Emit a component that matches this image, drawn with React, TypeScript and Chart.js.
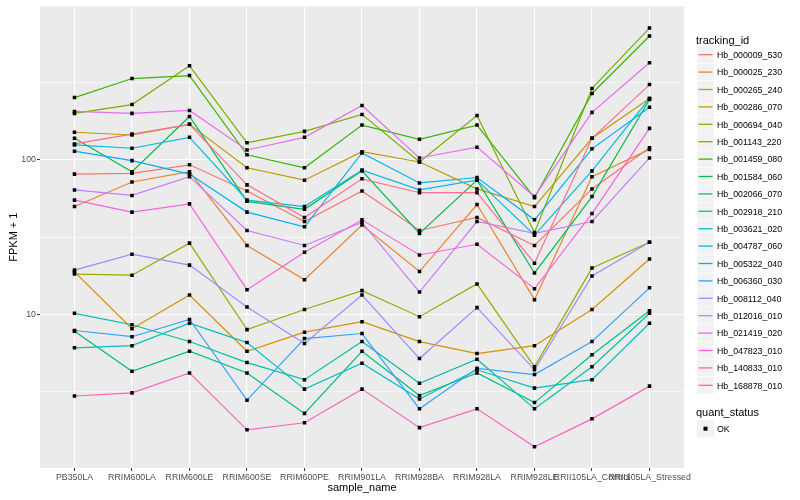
import React, { useEffect, useRef } from "react";
import { Chart, registerables } from "chart.js";

Chart.register(...registerables);

const FONT = "'Liberation Sans', Arial, Helvetica, sans-serif";

const categories = [
  "PB350LA",
  "RRIM600LA",
  "RRIM600LE",
  "RRIM600SE",
  "RRIM600PE",
  "RRIM901LA",
  "RRIM928BA",
  "RRIM928LA",
  "RRIM928LE",
  "RRII105LA_Control",
  "RRII105LA_Stressed",
];

const trackingIds = [
  "Hb_000009_530",
  "Hb_000025_230",
  "Hb_000265_240",
  "Hb_000286_070",
  "Hb_000694_040",
  "Hb_001143_220",
  "Hb_001459_080",
  "Hb_001584_060",
  "Hb_002066_070",
  "Hb_002918_210",
  "Hb_003621_020",
  "Hb_004787_060",
  "Hb_005322_040",
  "Hb_006360_030",
  "Hb_008112_040",
  "Hb_012016_010",
  "Hb_021419_020",
  "Hb_047823_010",
  "Hb_140833_010",
  "Hb_168878_010",
];

const seriesColors = [
  "#F8766D", "#EA8331", "#D89000", "#C09B00", "#A3A500",
  "#7CAE00", "#39B600", "#00BB4E", "#00BF7D", "#00C1A3",
  "#00BFC4", "#00BAE0", "#00B0F6", "#35A2FF", "#9590FF",
  "#C77CFF", "#E76BF3", "#FA62DB", "#FF62BC", "#FF6C91",
];

// FPKM + 1 per sample, in category order
const s000009_530 = [81, 82, 93, 63, 40, 63, 35, 42.5, 28, 65, 120];
const s000025_230 = [50, 72, 84, 28, 16.8, 38, 19, 51.5, 12.5, 78, 117];
const s000265_240 = [18.9, 8.1, 13.4, 5.8, 7.7, 9.0, 6.7, 5.6, 6.3, 10.8, 22.9];
const s000286_070 = [151, 145, 170, 89, 74, 113, 97, 65, 50, 138, 250];
const s000694_040 = [18.3, 18.0, 29.0, 8.0, 10.8, 14.3, 9.7, 15.8, 4.6, 20.0, 29.4];
const s001143_220 = [200, 228, 406, 129, 153, 197, 97, 194, 34, 290, 712];
const s001459_080 = [253, 336, 351, 108, 89, 168, 136, 168, 57, 269, 633];
const s001584_060 = [138, 84, 191, 54, 48, 85, 33.5, 74, 18.6, 58, 246];
const s002066_070 = [7.8, 4.3, 5.8, 4.2, 2.3, 5.8, 3.0, 4.2, 2.7, 5.5, 10.6];
const s002918_210 = [10.2, 8.6, 6.7, 4.9, 3.8, 6.7, 3.6, 5.15, 2.46, 4.6, 10.2];
const s003621_020 = [6.1, 6.3, 8.8, 6.6, 3.3, 4.85, 2.85, 4.4, 3.35, 3.8, 8.8];
const s004787_060 = [125, 119, 140, 55, 50, 86, 64, 74, 32.6, 85, 250];
const s005322_040 = [114, 99, 81, 46, 37, 111, 71, 77, 41, 118, 219];
const s006360_030 = [7.9, 7.2, 9.3, 2.8, 7.0, 7.55, 2.46, 4.5, 4.1, 6.7, 14.9];
const s008112_040 = [19.4, 24.6, 20.9, 11.2, 6.5, 13.4, 5.2, 11.1, 4.4, 17.8, 29.4];
const s012016_010 = [64, 59, 78, 35, 28, 39.5, 14, 40, 33.5, 40, 103];
const s021419_020 = [206, 200, 209, 116, 140, 225, 103, 121, 58, 203, 425];
const s047823_010 = [55, 46, 52, 14.5, 25.3, 41, 24.3, 28.5, 14.7, 45, 160];
const s140833_010 = [2.98, 3.12, 4.2, 1.8, 2.0, 3.3, 1.86, 2.46, 1.4, 2.12, 3.45];
const s168878_010 = [127, 147, 170, 69, 42.5, 75.5, 61.4, 61.4, 21.5, 138, 307];

const seriesValues = [
  s000009_530, s000025_230, s000265_240, s000286_070, s000694_040,
  s001143_220, s001459_080, s001584_060, s002066_070, s002918_210,
  s003621_020, s004787_060, s005322_040, s006360_030, s008112_040,
  s012016_010, s021419_020, s047823_010, s140833_010, s168878_010,
];

const yMajorTicks = [10, 100];
const yMinorTicks = [3.1623, 31.623, 316.23];
const yMin = 1.02;
const yMax = 985;

const panelBg = {
  id: "panelBg",
  beforeDraw(chart: any) {
    const { ctx, chartArea } = chart;
    if (!chartArea) return;
    ctx.save();
    ctx.fillStyle = "#EBEBEB";
    ctx.fillRect(chartArea.left, chartArea.top, chartArea.right - chartArea.left, chartArea.bottom - chartArea.top);
    ctx.restore();
  },
};

function isMajorY(v: number) {
  return yMajorTicks.some((m) => Math.abs(m - v) < 1e-6);
}

export default function App() {
  const ref = useRef<HTMLCanvasElement>(null);

  useEffect(() => {
    const canvas = ref.current;
    if (!canvas) return;
    const n = seriesValues.length;
    const lineSets = seriesValues.map((vals, i) => ({
      type: "line" as const,
      label: trackingIds[i],
      data: vals.map((v, j) => ({ x: j, y: v })),
      borderColor: seriesColors[i],
      backgroundColor: seriesColors[i],
      borderWidth: 1.2,
      pointRadius: 0,
      tension: 0,
      fill: false,
      order: n - i,
    }));
    const pointData: { x: number; y: number }[] = [];
    seriesValues.forEach((vals) => vals.forEach((v, j) => pointData.push({ x: j, y: v })));
    const pointSet = {
      type: "scatter" as const,
      label: "OK",
      data: pointData,
      backgroundColor: "#000000",
      borderColor: "#000000",
      borderWidth: 0,
      pointStyle: "rect",
      pointRadius: 2.5,
      showLine: false,
      order: 0,
    };

    const chart = new Chart(canvas, {
      type: "line",
      data: { datasets: [...lineSets, pointSet] as any },
      plugins: [panelBg],
      options: {
        animation: false,
        responsive: false,
        maintainAspectRatio: false,
        events: [],
        layout: { padding: { left: 0, top: 5, right: 116, bottom: 0 } },
        plugins: {
          legend: { display: false },
          tooltip: { enabled: false },
        },
        scales: {
          x: {
            type: "linear",
            min: -0.6,
            max: categories.length - 1 + 0.6,
            afterBuildTicks: (scale: any) => {
              scale.ticks = categories.map((_, i) => ({ value: i }));
            },
            afterFit: (scale: any) => {
              scale.height = 32;
            },
            ticks: {
              autoSkip: false,
              maxRotation: 0,
              minRotation: 0,
              padding: 1,
              color: "#4D4D4D",
              font: { family: FONT, size: 8.8 },
              callback: (v: any) => categories[Math.round(Number(v))] ?? "",
            },
            grid: {
              color: "#FFFFFF",
              lineWidth: 1.1,
              tickLength: 3,
              tickColor: "#333333",
              tickWidth: 1,
            },
            border: { display: false },
            title: {
              display: true,
              text: "sample_name",
              color: "#000000",
              font: { family: FONT, size: 11 },
              padding: { top: 0, bottom: 5 },
            },
          },
          y: {
            type: "logarithmic",
            min: yMin,
            max: yMax,
            afterBuildTicks: (scale: any) => {
              scale.ticks = [...yMinorTicks, ...yMajorTicks]
                .sort((a, b) => a - b)
                .map((v) => ({ value: v }));
            },
            afterFit: (scale: any) => {
              scale.width = 40;
            },
            ticks: {
              autoSkip: false,
              padding: 1,
              color: "#4D4D4D",
              font: { family: FONT, size: 8.8 },
              callback: (v: any) => (isMajorY(Number(v)) ? String(Math.round(Number(v))) : ""),
            },
            grid: {
              color: "#FFFFFF",
              lineWidth: (c: any) => (c.tick && isMajorY(c.tick.value) ? 1.1 : 0.55),
              tickLength: 3,
              tickColor: (c: any) => (c.tick && isMajorY(c.tick.value) ? "#333333" : "rgba(0,0,0,0)"),
              tickWidth: 1,
            },
            border: { display: false },
            title: {
              display: true,
              text: "FPKM + 1",
              color: "#000000",
              font: { family: FONT, size: 11 },
              padding: { top: 7, bottom: 0 },
            },
          },
        },
      } as any,
    });
    return () => chart.destroy();
  }, []);

  const rowH = 17.4;
  const firstCenter = 55;
  const keyW = 17;

  return (
    <div
      style={{
        position: "absolute",
        left: 0,
        top: 0,
        width: 800,
        height: 500,
        background: "#FFFFFF",
        fontFamily: FONT,
        overflow: "hidden",
      }}
    >
      <canvas
        ref={ref}
        width={800}
        height={500}
        style={{ position: "absolute", left: 0, top: 0, width: 800, height: 500 }}
      />
      <div
        style={{
          position: "absolute",
          left: 696,
          top: 33,
          fontSize: 11,
          lineHeight: "14px",
          color: "#000",
          whiteSpace: "nowrap",
        }}
      >
        tracking_id
      </div>
      <svg
        width={keyW}
        height={rowH * trackingIds.length}
        style={{ position: "absolute", left: 697, top: firstCenter - rowH / 2 }}
      >
        {trackingIds.map((id, i) => (
          <g key={id}>
            <rect x={0} y={i * rowH} width={keyW} height={rowH} fill="#F2F2F2" stroke="#FFFFFF" strokeWidth={0.5} />
            <line
              x1={1.5}
              x2={keyW - 1.5}
              y1={i * rowH + rowH / 2}
              y2={i * rowH + rowH / 2}
              stroke={seriesColors[i]}
              strokeWidth={1.3}
            />
          </g>
        ))}
      </svg>
      {trackingIds.map((id, i) => (
        <div
          key={id}
          style={{
            position: "absolute",
            left: 717,
            top: firstCenter + i * rowH - rowH / 2,
            height: rowH,
            display: "flex",
            alignItems: "center",
            fontSize: 8.8,
            color: "#000",
            whiteSpace: "nowrap",
          }}
        >
          {id}
        </div>
      ))}
      <div
        style={{
          position: "absolute",
          left: 696,
          top: 405,
          fontSize: 11,
          lineHeight: "14px",
          color: "#000",
          whiteSpace: "nowrap",
        }}
      >
        quant_status
      </div>
      <svg width={keyW} height={rowH} style={{ position: "absolute", left: 697, top: 429 - rowH / 2 }}>
        <rect x={0} y={0} width={keyW} height={rowH} fill="#F2F2F2" />
        <rect x={keyW / 2 - 2} y={rowH / 2 - 2} width={4} height={4} fill="#000000" />
      </svg>
      <div
        style={{
          position: "absolute",
          left: 717,
          top: 429 - rowH / 2,
          height: rowH,
          display: "flex",
          alignItems: "center",
          fontSize: 8.8,
          color: "#000",
          whiteSpace: "nowrap",
        }}
      >
        OK
      </div>
    </div>
  );
}
